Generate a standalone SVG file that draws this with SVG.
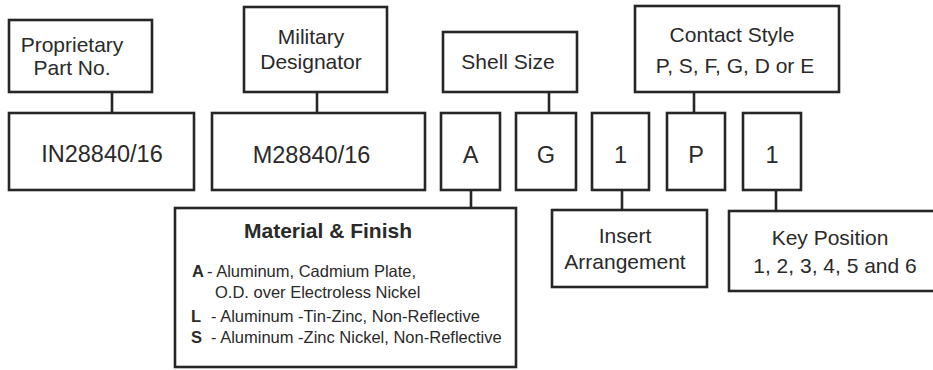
<svg xmlns="http://www.w3.org/2000/svg" width="933" height="370" viewBox="0 0 933 370">
<style>
.box{fill:#fff;stroke:#262626;stroke-width:2.6}
.ln{stroke:#262626;stroke-width:2.6;fill:none}
text{font-family:"Liberation Sans",Arial,sans-serif;fill:#2a2a2a}
.lab{font-size:21px;text-anchor:middle}
.val{font-size:23.5px;text-anchor:middle}
.mat{font-size:16.5px}
.b{font-weight:bold}
</style>
<rect width="933" height="370" fill="#fff"/>
<g id="connectors">
<line class="ln" x1="112" y1="92" x2="112" y2="113"/>
<line class="ln" x1="317" y1="92" x2="317" y2="113"/>
<line class="ln" x1="549" y1="92" x2="549" y2="113"/>
<line class="ln" x1="694" y1="92" x2="694" y2="113"/>
<line class="ln" x1="471" y1="190" x2="471" y2="208"/>
<line class="ln" x1="622" y1="190" x2="622" y2="210"/>
<line class="ln" x1="776" y1="190" x2="776" y2="211"/>
</g>
<g id="proprietary">
<rect class="box" x="9" y="20" width="143" height="72"/>
<text class="lab" x="72" y="52">Proprietary</text>
<text class="lab" x="72" y="75">Part No.</text>
</g>
<g id="military">
<rect class="box" x="244" y="7" width="143" height="85"/>
<text class="lab" x="311" y="44">Military</text>
<text class="lab" x="311" y="69">Designator</text>
</g>
<g id="shellsize">
<rect class="box" x="443" y="32" width="134" height="60"/>
<text class="lab" x="508" y="69">Shell Size</text>
</g>
<g id="contactstyle">
<rect class="box" x="635" y="6" width="204" height="86"/>
<text class="lab" x="732" y="42">Contact Style</text>
<text class="lab" x="735" y="73">P, S, F, G, D or E</text>
</g>
<g id="in-part">
<rect class="box" x="9" y="113" width="185" height="77"/>
<text class="val" x="102" y="162">IN28840/16</text>
</g>
<g id="m-part">
<rect class="box" x="212" y="113" width="213" height="77"/>
<text class="val" x="311.5" y="163">M28840/16</text>
</g>
<g id="a-box">
<rect class="box" x="441" y="113" width="59" height="77"/>
<text class="val" x="470.5" y="163">A</text>
</g>
<g id="g-box">
<rect class="box" x="516" y="113" width="60" height="77"/>
<text class="val" x="546" y="163">G</text>
</g>
<g id="one-box">
<rect class="box" x="592" y="113" width="57" height="77"/>
<text class="val" x="620.5" y="163">1</text>
</g>
<g id="p-box">
<rect class="box" x="667" y="113" width="58" height="77"/>
<text class="val" x="696" y="163">P</text>
</g>
<g id="key-one-box">
<rect class="box" x="743" y="113" width="58" height="77"/>
<text class="val" x="772" y="163">1</text>
</g>
<g id="material">
<rect class="box" x="175" y="208" width="341" height="159"/>
<text class="lab b" x="328" y="238">Material &amp; Finish</text>
<text class="mat" y="277"><tspan class="b" x="192">A</tspan><tspan x="207">- Aluminum, Cadmium Plate,</tspan></text>
<text class="mat" x="215" y="298">O.D. over Electroless Nickel</text>
<text class="mat" y="322"><tspan class="b" x="191">L</tspan><tspan x="211">- Aluminum -Tin-Zinc, Non-Reflective</tspan></text>
<text class="mat" y="343"><tspan class="b" x="191">S</tspan><tspan x="211">- Aluminum -Zinc Nickel, Non-Reflective</tspan></text>
</g>
<g id="insert">
<rect class="box" x="552" y="210" width="155" height="77"/>
<text class="lab" x="625" y="243">Insert</text>
<text class="lab" x="625" y="269">Arrangement</text>
</g>
<g id="keyposition">
<rect class="box" x="729" y="211" width="210" height="80"/>
<text class="lab" x="830" y="245">Key Position</text>
<text class="lab" x="835" y="273">1, 2, 3, 4, 5 and 6</text>
</g>
</svg>
